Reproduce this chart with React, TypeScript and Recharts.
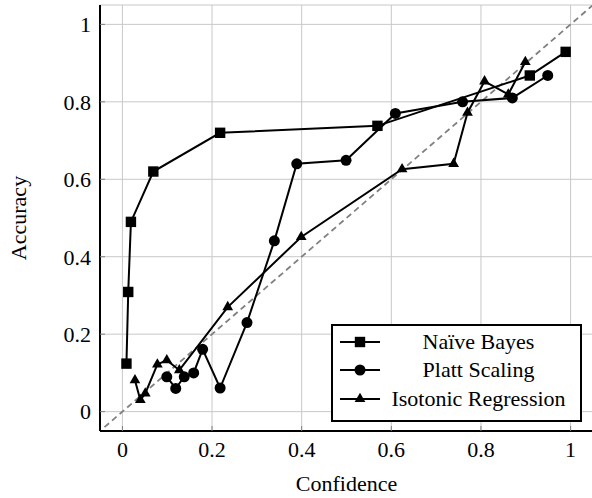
import React from 'react';
import { LineChart, Line, XAxis, YAxis, CartesianGrid } from 'recharts';

const xTicks = [0, 0.2, 0.4, 0.6, 0.8, 1];
const yTicks = [0, 0.2, 0.4, 0.6, 0.8, 1];

// Naïve Bayes
const nbConf = [0.009, 0.013, 0.019, 0.069, 0.218, 0.569, 0.909, 0.989];
const nbAcc = [0.124, 0.309, 0.49, 0.62, 0.72, 0.738, 0.868, 0.929];

// Platt Scaling
const plattConf = [0.099, 0.119, 0.138, 0.159, 0.179, 0.218, 0.278, 0.339, 0.389, 0.499, 0.609, 0.759, 0.87, 0.949];
const plattAcc = [0.09, 0.06, 0.09, 0.1, 0.161, 0.061, 0.23, 0.441, 0.64, 0.649, 0.77, 0.8, 0.81, 0.868];

// Isotonic Regression
const isoConf = [0.028, 0.04, 0.051, 0.078, 0.099, 0.127, 0.235, 0.399, 0.624, 0.739, 0.77, 0.808, 0.861, 0.899];
const isoAcc = [0.081, 0.03, 0.047, 0.122, 0.133, 0.107, 0.27, 0.451, 0.626, 0.64, 0.772, 0.853, 0.819, 0.903];

// perfect calibration
const diagonal = [-0.04, 1.05];

const toPoints = (xs: number[], ys: number[]) => xs.map((x, i) => ({ x, y: ys[i] }));
const nbData = toPoints(nbConf, nbAcc);
const plattData = toPoints(plattConf, plattAcc);
const isoData = toPoints(isoConf, isoAcc);
const diagData = diagonal.map((v) => ({ x: v, y: v }));

const FONT = "'Liberation Serif', 'DejaVu Serif', serif";
const FS = 22;
const R = 5.2;

const Square = ({ cx, cy }: { cx: number; cy: number }) => (
  <rect x={cx - R} y={cy - R} width={2 * R} height={2 * R} fill="#000" />
);
const Dot = ({ cx, cy }: { cx: number; cy: number }) => <circle cx={cx} cy={cy} r={R + 0.3} fill="#000" />;
const Tri = ({ cx, cy }: { cx: number; cy: number }) => {
  const r = 6.2;
  const h = r * Math.sin(Math.PI / 3);
  return (
    <polygon
      points={`${cx},${cy - r} ${cx - h},${cy + r / 2} ${cx + h},${cy + r / 2}`}
      fill="#000"
    />
  );
};

const markers: Record<string, any> = { square: Square, circle: Dot, triangle: Tri };

const dotFor = (kind: string) => (props: any) => {
  const M = markers[kind];
  if (props.cx == null || props.cy == null) return <g key={props.index} />;
  return <M key={props.index} cx={props.cx} cy={props.cy} />;
};

const fmt = (v: number) => String(v);

const legendItems = [
  { name: 'Naïve Bayes', kind: 'square' },
  { name: 'Platt Scaling', kind: 'circle' },
  { name: 'Isotonic Regression', kind: 'triangle' },
];

export default function App() {
  return (
    <div style={{ position: 'absolute', left: 0, top: 0, width: 592, height: 498, overflow: 'hidden', background: '#fff' }}>
      <LineChart width={593} height={498} margin={{ top: 5, right: 0, bottom: 0, left: 0 }}>
        <CartesianGrid stroke="#c8c8c8" strokeWidth={1} />
        <XAxis
          type="number"
          dataKey="x"
          domain={[-0.05, 1.05]}
          ticks={xTicks}
          allowDataOverflow
          height={67}
          tickSize={-5}
          tickMargin={15}
          tickFormatter={fmt}
          tickLine={{ stroke: '#808080' }}
          axisLine={{ stroke: '#000', strokeWidth: 2 }}
          tick={{ fill: '#000', fontSize: FS, fontFamily: FONT }}
          label={{ value: 'Confidence', position: 'insideBottom', offset: 7, fill: '#000', fontSize: FS, fontFamily: FONT }}
        />
        <XAxis
          xAxisId="top"
          orientation="top"
          type="number"
          domain={[-0.05, 1.05]}
          ticks={xTicks}
          allowDataOverflow
          height={0}
          tickSize={-5}
          tick={false}
          tickLine={{ stroke: '#808080' }}
          axisLine={{ stroke: '#000', strokeWidth: 2 }}
        />
        <YAxis
          type="number"
          domain={[-0.05, 1.05]}
          ticks={yTicks}
          allowDataOverflow
          width={100}
          tickSize={-5}
          tickMargin={14}
          tickFormatter={fmt}
          tickLine={{ stroke: '#808080' }}
          axisLine={{ stroke: '#000', strokeWidth: 2 }}
          tick={{ fill: '#000', fontSize: FS, fontFamily: FONT }}
          label={{
            value: 'Accuracy',
            angle: -90,
            position: 'insideLeft',
            offset: 18,
            fill: '#000',
            fontSize: FS,
            fontFamily: FONT,
            style: { textAnchor: 'middle' },
          }}
        />
        <YAxis
          yAxisId="right"
          orientation="right"
          type="number"
          domain={[-0.05, 1.05]}
          ticks={yTicks}
          allowDataOverflow
          width={0}
          tickSize={-5}
          tick={false}
          tickLine={{ stroke: '#808080' }}
          axisLine={{ stroke: '#000', strokeWidth: 2 }}
        />
        <Line
          data={diagData}
          dataKey="y"
          stroke="#808080"
          strokeWidth={1.8}
          strokeDasharray="6 4"
          dot={false}
          isAnimationActive={false}
        />
        <Line data={nbData} dataKey="y" stroke="#000" strokeWidth={2} dot={dotFor('square')} isAnimationActive={false} />
        <Line data={plattData} dataKey="y" stroke="#000" strokeWidth={2} dot={dotFor('circle')} isAnimationActive={false} />
        <Line data={isoData} dataKey="y" stroke="#000" strokeWidth={2} dot={dotFor('triangle')} isAnimationActive={false} />
      </LineChart>
      <div
        style={{
          position: 'absolute',
          left: 331,
          top: 324,
          width: 247,
          height: 92,
          border: '2px solid #000',
          background: '#fff',
          fontFamily: FONT,
          fontSize: FS,
          paddingTop: 2,
        }}
      >
        {legendItems.map((it) => {
          const M = markers[it.kind];
          return (
            <div key={it.name} style={{ display: 'flex', alignItems: 'center', height: 28.3 }}>
              <svg width={56} height={20} style={{ flex: 'none' }}>
                <line x1={7} x2={47} y1={10} y2={10} stroke="#000" strokeWidth={2} />
                <M cx={27} cy={10} />
              </svg>
              <div style={{ flex: 1, textAlign: 'center', lineHeight: '28px', whiteSpace: 'nowrap', paddingRight: 12 }}>
                {it.name}
              </div>
            </div>
          );
        })}
      </div>
    </div>
  );
}
